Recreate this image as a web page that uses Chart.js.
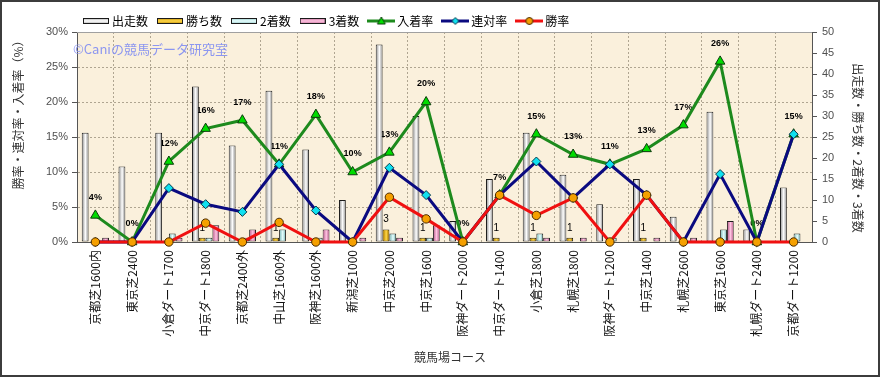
<!DOCTYPE html>
<html><head><meta charset="utf-8">
<script src="https://cdn.jsdelivr.net/npm/chart.js@4.4.1/dist/chart.umd.min.js"></script>
<style>html,body{margin:0;padding:0;background:#fff;}#wrap{width:882px;height:378px;position:relative;}canvas{display:block;}</style>
</head><body><div id="wrap"><canvas id="c" width="882" height="378"></canvas></div>
<script>
const courses = ['京都芝1600内','東京芝2400','小倉ダート1700','中京ダート1800','京都芝2400外','中山芝1600外','阪神芝1600外','新潟芝1000','中京芝2000','中京芝1600','阪神ダート2000','中京ダート1400','小倉芝1800','札幌芝1800','阪神ダート1200','中京芝1400','札幌芝2600','東京芝1600','札幌ダート2400','京都ダート1200'];
const starts  = [26, 18, 26, 37, 23, 36, 22, 10, 47, 30, 5, 15, 26, 16, 9, 15, 6, 31, 3, 13];
const wins    = [0, 0, 0, 1, 0, 1, 0, 0, 3, 1, 0, 1, 1, 1, 0, 1, 0, 0, 0, 0];
const seconds = [0, 0, 2, 1, 1, 3, 1, 0, 2, 1, 0, 0, 2, 0, 1, 0, 0, 3, 0, 2];
const thirds  = [1, 0, 1, 4, 3, 0, 3, 1, 1, 4, 0, 0, 1, 1, 0, 1, 1, 5, 0, 0];
const placeRate    = [3.8, 0, 11.5, 16.2, 17.4, 11.1, 18.2, 10.0, 12.8, 20.0, 0, 6.7, 15.4, 12.5, 11.1, 13.3, 16.7, 25.8, 0, 15.4];
const quinellaRate = [0, 0, 7.7, 5.4, 4.3, 11.1, 4.5, 0, 10.6, 6.7, 0, 6.7, 11.5, 6.3, 11.1, 6.7, 0, 9.7, 0, 15.4];
const winRate      = [0, 0, 0, 2.7, 0, 2.8, 0, 0, 6.4, 3.3, 0, 6.7, 3.8, 6.3, 0, 6.7, 0, 0, 0, 0];
const placeRateLabels = ['4%','0%','12%','16%','17%','11%','18%','10%','13%','20%','0%','7%','15%','13%','11%','13%','17%','26%','0%','15%'];
const seriesNames = ['出走数','勝ち数','2着数','3着数','入着率','連対率','勝率'];
const leftTitle = '勝率・連対率・入着率（%）';
const rightTitle = '出走数・勝ち数・2着数・3着数';
const xTitle = '競馬場コース';
const watermark = '©Caniの競馬データ研究室';

const CJK = '"Noto Sans CJK JP", sans-serif';
const LAT = '"Liberation Sans", Arial, sans-serif';

const barStyles = [
  {fill:'#e6e6e6', edge:'#a8a8a8', mid:'#ffffff'},
  {fill:'#f0b400', edge:'#c08a00', mid:'#ffd84a'},
  {fill:'#c4eeee', edge:'#8ec4c4', mid:'#e8ffff'},
  {fill:'#ee9cc6', edge:'#c8709c', mid:'#ffc4e2'}
];
const lineStyles = [
  {line:'#1d8a1d', width:3, style:'triangle', r:5.5, fill:'#00dc00', border:'#0c3c0c'},
  {line:'#0a0a80', width:3, style:'rectRot', r:4.5, fill:'#10e0f0', border:'#083848'},
  {line:'#f01010', width:3, style:'circle', r:4.2, fill:'#f5a000', border:'#4a2a00'}
];

function barSwatch(s){
  const c = document.createElement('canvas'); c.width = 26; c.height = 6;
  const x = c.getContext('2d');
  const g = x.createLinearGradient(0,0,0,6);
  g.addColorStop(0, s.edge); g.addColorStop(0.5, s.mid); g.addColorStop(1, s.edge);
  x.fillStyle = g; x.fillRect(0,0,26,6);
  x.strokeStyle = '#1a1a1a'; x.lineWidth = 1; x.strokeRect(0.5,0.5,25,5);
  return c;
}
function lineSwatch(s){
  const c = document.createElement('canvas'); c.width = 28; c.height = 12;
  const x = c.getContext('2d');
  x.strokeStyle = s.line; x.lineWidth = s.width; x.beginPath(); x.moveTo(0,6); x.lineTo(28,6); x.stroke();
  x.fillStyle = s.fill; x.strokeStyle = s.border; x.lineWidth = 1;
  x.beginPath();
  if (s.style === 'triangle') { x.moveTo(14,2); x.lineTo(18,9); x.lineTo(10,9); x.closePath(); }
  else if (s.style === 'rectRot') { x.moveTo(14,2.5); x.lineTo(17.5,6); x.lineTo(14,9.5); x.lineTo(10.5,6); x.closePath(); }
  else { x.arc(14,6,3.5,0,Math.PI*2); }
  x.fill(); x.stroke();
  return c;
}
const swatches = [...barStyles.map(barSwatch), ...lineStyles.map(lineSwatch)];

const gridColor = 'rgba(150,140,120,0.75)';

const decorPlugin = {
  id: 'decor',
  beforeDraw(chart){
    const {ctx, chartArea:a} = chart;
    ctx.save();
    ctx.fillStyle = '#fff'; ctx.fillRect(0,0,chart.width,chart.height);
    ctx.fillStyle = '#faf0dc'; ctx.fillRect(a.left, a.top, a.right-a.left, a.bottom-a.top);
    ctx.restore();
    if (chart.legend) chart.legend.left = 74;
  },
  beforeDatasetsDraw(chart){
    const {ctx, chartArea:a} = chart;
    ctx.save();
    ctx.strokeStyle = '#a0a0a0'; ctx.lineWidth = 1;
    ctx.beginPath(); ctx.moveTo(a.left, a.top+0.5); ctx.lineTo(a.right, a.top+0.5); ctx.stroke();
    ctx.font = '13px ' + CJK; ctx.fillStyle = 'rgb(140,150,240)';
    ctx.textAlign = 'left'; ctx.textBaseline = 'middle';
    ctx.fillText(watermark, 73, 49);
    ctx.fillStyle = '#000'; ctx.textAlign = 'center';
    ctx.font = 'bold 9px ' + LAT;
    chart.getDatasetMeta(4).data.forEach((p,i)=>{ ctx.fillText(placeRateLabels[i], p.x, p.y - 18); });
    ctx.font = '10px ' + LAT;
    chart.getDatasetMeta(1).data.forEach((b,i)=>{ if (wins[i] > 0) ctx.fillText(String(wins[i]), b.x, b.y - 10); });
    ctx.restore();
  },
  afterDatasetDraw(chart, args){
    const s = barStyles[args.index]; if (!s) return;
    const ctx = chart.ctx;
    ctx.save();
    args.meta.data.forEach(el => {
      const {x, y, base, width} = el.getProps(['x','y','base','width'], true);
      const h = base - y; if (h <= 2) return;
      const l = x - width/2 + 1, r = x + width/2 - 1;
      const g = ctx.createLinearGradient(l,0,r,0);
      g.addColorStop(0, s.edge); g.addColorStop(0.55, s.mid); g.addColorStop(1, s.edge);
      ctx.fillStyle = g; ctx.fillRect(l, y+1, r-l, h-2);
    });
    ctx.restore();
  },
  afterDraw(chart){
    const ctx = chart.ctx;
    ctx.save();
    ctx.fillStyle = '#333'; ctx.font = '12px ' + CJK; ctx.textAlign = 'center'; ctx.textBaseline = 'middle';
    ctx.save(); ctx.translate(18, 112); ctx.rotate(-Math.PI/2); ctx.fillText(leftTitle, 0, 0); ctx.restore();
    ctx.save(); ctx.translate(858, 148); ctx.rotate(Math.PI/2); ctx.fillText(rightTitle, 0, 0); ctx.restore();
    ctx.fillText(xTitle, 450, 357);
    ctx.strokeStyle = '#3c3c3c'; ctx.lineWidth = 2;
    ctx.strokeRect(1, 1, 878, 375);
    ctx.restore();
  }
};

const barData = [starts, wins, seconds, thirds];
const lineData = [placeRate, quinellaRate, winRate];
const datasets = [];
barData.forEach((d,i)=>{
  datasets.push({type:'bar', label: seriesNames[i], data: d, yAxisID:'y1',
    backgroundColor: barStyles[i].fill, borderColor:'#1a1a1a', borderWidth:1, borderSkipped:false,
    inflateAmount:0, categoryPercentage:0.74, barPercentage:1.0, order: 10});
});
lineData.forEach((d,i)=>{
  const s = lineStyles[i];
  datasets.push({type:'line', label: seriesNames[4+i], data: d, yAxisID:'y',
    borderColor: s.line, borderWidth: s.width, tension:0, fill:false,
    pointStyle: s.style, pointRadius: s.r, pointHoverRadius: s.r,
    pointBackgroundColor: s.fill, pointBorderColor: s.border, pointBorderWidth:1,
    clip:false, order: 3 - i});
});

new Chart(document.getElementById('c'), {
  type:'bar',
  data:{ labels: courses, datasets },
  options:{
    responsive:false, animation:false, devicePixelRatio:1,
    layout:{padding:{top:3,left:0,right:0,bottom:0}},
    plugins:{
      tooltip:{enabled:false},
      legend:{
        position:'top', align:'start', maxHeight:29,
        labels:{
          usePointStyle:true, pointStyleWidth:20, padding:12,
          font:{family:CJK, size:12}, color:'#222',
          generateLabels(chart){
            return chart.data.datasets.map((ds,i)=>({text: ds.label, pointStyle: swatches[i], fillStyle:'rgba(0,0,0,0)', strokeStyle:'rgba(0,0,0,0)', lineWidth:0, hidden:false, datasetIndex:i}));
          }
        }
      }
    },
    scales:{
      x:{
        grid:{color:gridColor, drawTicks:false, offset:true, lineWidth:1},
        border:{color:'#555', dash:[2,2]},
        ticks:{minRotation:90, maxRotation:90, autoSkip:false, padding:8, color:'#111', font:{family:CJK, size:12}},
        afterFit(s){ s.height = 136; }
      },
      y:{
        position:'left', min:0, max:30,
        grid:{color:gridColor, tickLength:5, tickColor:'#555', lineWidth:1},
        border:{color:'#555', dash:[2,2]},
        ticks:{stepSize:5, padding:4, color:'#505050', font:{family:LAT, size:11}, callback:v=>v+'%'},
        afterFit(s){ s.width = 77; }
      },
      y1:{
        position:'right', min:0, max:50,
        grid:{drawOnChartArea:false, tickLength:5, tickColor:'#555'},
        border:{color:'#555'},
        ticks:{stepSize:5, padding:5, color:'#505050', font:{family:LAT, size:11}},
        afterFit(s){ s.width = 70; }
      }
    }
  },
  plugins:[decorPlugin]
});
</script></body></html>
